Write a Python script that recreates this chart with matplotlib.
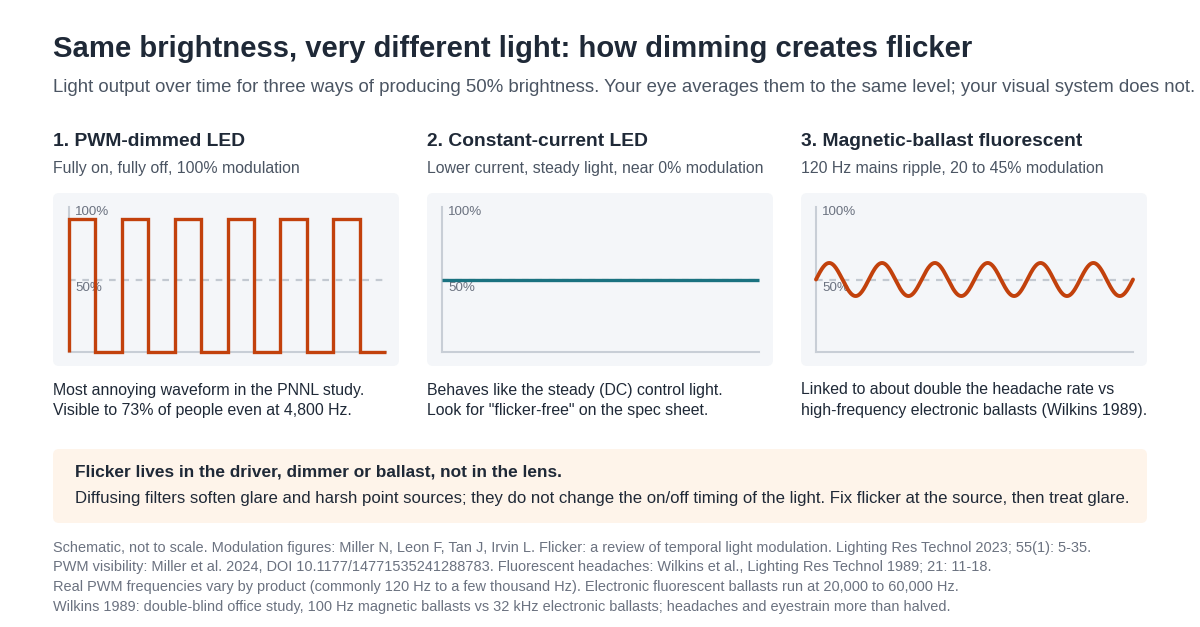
import numpy as np
import matplotlib
matplotlib.use("Agg")
import matplotlib.pyplot as plt
from matplotlib.patches import FancyBboxPatch

plt.rcParams['font.family'] = ['Liberation Sans', 'DejaVu Sans']

# ---- texts ----
title = "Same brightness, very different light: how dimming creates flicker"
subtitle = ("Light output over time for three ways of producing 50% brightness. "
            "Your eye averages them to the same level; your visual system does not.")
panel_titles = ["1. PWM-dimmed LED", "2. Constant-current LED", "3. Magnetic-ballast fluorescent"]
panel_subtitles = ["Fully on, fully off, 100% modulation",
                   "Lower current, steady light, near 0% modulation",
                   "120 Hz mains ripple, 20 to 45% modulation"]
panel_notes = [["Most annoying waveform in the PNNL study.",
                "Visible to 73% of people even at 4,800 Hz."],
               ["Behaves like the steady (DC) control light.",
                'Look for "flicker-free" on the spec sheet.'],
               ["Linked to about double the headache rate vs",
                "high-frequency electronic ballasts (Wilkins 1989)."]]
callout_head = "Flicker lives in the driver, dimmer or ballast, not in the lens."
callout_body = ("Diffusing filters soften glare and harsh point sources; they do not change "
                "the on/off timing of the light. Fix flicker at the source, then treat glare.")
footer = [
    "Schematic, not to scale. Modulation figures: Miller N, Leon F, Tan J, Irvin L. Flicker: a review of "
    "temporal light modulation. Lighting Res Technol 2023; 55(1): 5-35.",
    "PWM visibility: Miller et al. 2024, DOI 10.1177/14771535241288783. Fluorescent headaches: "
    "Wilkins et al., Lighting Res Technol 1989; 21: 11-18.",
    "Real PWM frequencies vary by product (commonly 120 Hz to a few thousand Hz). Electronic fluorescent "
    "ballasts run at 20,000 to 60,000 Hz.",
    "Wilkins 1989: double-blind office study, 100 Hz magnetic ballasts vs 32 kHz electronic ballasts; "
    "headaches and eyestrain more than halved.",
]

# ---- waveforms (time in cycles, light in % of full output) ----
pwm_times = [0, 0, 0.5, 1, 1.5, 2, 2.5, 3, 3.5, 4, 4.5, 5, 5.5, 6]
pwm_levels = [0, 92, 0, 92, 0, 92, 0, 92, 0, 92, 0, 92, 0, 0]

cc_times = [0, 6]
cc_levels = [50, 50]

ripple_mean = 50
ripple_amp = 11.4
ripple_cycles = 6

average_level = 50

ORANGE = "#c2410c"
TEAL = "#1a7280"
DARK = "#1f2937"
MID = "#4b5563"
LIGHT = "#6b7280"

fig = plt.figure(figsize=(12, 6.27), dpi=100)

# pixel-space background layer for boxes and text
bg = fig.add_axes([0, 0, 1, 1], zorder=0)
bg.set_xlim(0, 1200)
bg.set_ylim(627, 0)
bg.axis('off')


def box(x0, y0, x1, y1, color):
    bg.add_patch(FancyBboxPatch((x0, y0), x1 - x0, y1 - y0,
                                boxstyle="round,pad=0,rounding_size=6",
                                fc=color, ec='none'))


bg.text(53, 49, title, fontsize=21.1, fontweight='bold', color=DARK, va='center')
bg.text(53, 88, subtitle, fontsize=13.45, color=MID, va='center')

col_x = [53, 427, 801]
box_w = 346
for i, x in enumerate(col_x):
    bg.text(x, 142, panel_titles[i], fontsize=13.9, fontweight='bold', color=DARK, va='center')
    bg.text(x, 168, panel_subtitles[i], fontsize=11.4, color=MID, va='center')
    box(x, 193, x + box_w, 366, "#f4f6f9")
    bg.text(x, 390, panel_notes[i][0], fontsize=11.4, color=DARK, va='center')
    bg.text(x, 411, panel_notes[i][1], fontsize=11.4, color=DARK, va='center')

box(53, 449, 1147, 523, "#fef4ea")
bg.text(75, 472, callout_head, fontsize=12.4, fontweight='bold', color=DARK, va='center')
bg.text(75, 498, callout_body, fontsize=12.1, color=DARK, va='center')

for k, line in enumerate(footer):
    bg.text(53, 548 + k * 19.5, line, fontsize=10.45, color=LIGHT, va='center')

# ---- the three waveform plots ----
plot_left = [69, 442, 816]
plot_w = 317
top_px, bottom_px = 207, 352
series = [
    (pwm_times, pwm_levels, ORANGE, 'steps-post'),
    (cc_times, cc_levels, TEAL, 'default'),
    None,
]
for i, lx in enumerate(plot_left):
    ax = fig.add_axes([lx / 1200, 1 - bottom_px / 627, plot_w / 1200, (bottom_px - top_px) / 627],
                      zorder=1)
    ax.set_facecolor('none')
    ax.set_xlim(0, 6)
    ax.set_ylim(0, 100)
    for s in ['top', 'right']:
        ax.spines[s].set_visible(False)
    for s in ['left', 'bottom']:
        ax.spines[s].set_color("#c8ced6")
        ax.spines[s].set_linewidth(1.5)
    ax.set_xticks([])
    ax.set_yticks([])
    ax.axhline(average_level, color="#c3c9d1", lw=1.6, dashes=(3, 3), zorder=1)
    if i == 2:
        t = np.linspace(0, ripple_cycles, 600)
        ax.plot(t, ripple_mean + ripple_amp * np.sin(2 * np.pi * t), color=ORANGE,
                lw=2.8, clip_on=False, zorder=3, solid_capstyle='round')
    else:
        xs, ys, c, ds = series[i]
        ax.plot(xs, ys, color=c, lw=2.4, drawstyle=ds, clip_on=False, zorder=3,
                solid_joinstyle='miter', solid_capstyle='butt')
    bg.text(lx + 6, 212, "100%", fontsize=9.6, color=LIGHT, va='center', zorder=5)
    bg.text(lx + 6, 288, "50%", fontsize=9.6, color=LIGHT, va='center', zorder=5)

fig.savefig("out.png", dpi=100)
